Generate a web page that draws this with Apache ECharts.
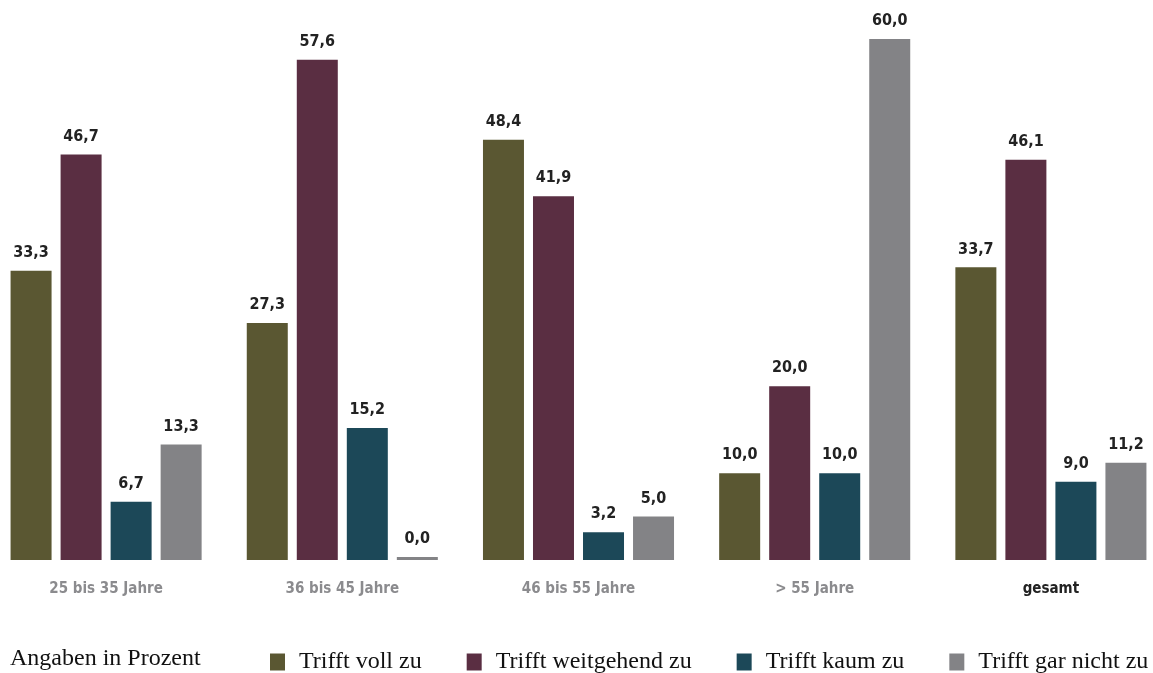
<!DOCTYPE html>
<html><head><meta charset="utf-8">
<script src="https://cdn.jsdelivr.net/npm/echarts@6/dist/echarts.min.js"></script>
<style>html,body{margin:0;padding:0;background:#fff}#c{width:1153px;height:673px}</style>
</head><body><div id="c"></div>
<script>
const categories = ['25 bis 35 Jahre', '36 bis 45 Jahre', '46 bis 55 Jahre', '> 55 Jahre', 'gesamt'];
const seriesNames = ['Trifft voll zu', 'Trifft weitgehend zu', 'Trifft kaum zu', 'Trifft gar nicht zu'];
const vollZu = [33.3, 27.3, 48.4, 10.0, 33.7];
const weitgehendZu = [46.7, 57.6, 41.9, 20.0, 46.1];
const kaumZu = [6.7, 15.2, 3.2, 10.0, 9.0];
const garNichtZu = [13.3, 0.0, 5.0, 60.0, 11.2];
const colors = ['#5a5732', '#5a2e42', '#1c4858', '#838386'];
const note = 'Angaben in Prozent';

const chart = echarts.init(document.getElementById('c'));
const dataSets = [vollZu, weitgehendZu, kaumZu, garNichtZu];
const condensed = "'DejaVu Sans Condensed', 'DejaVu Sans', sans-serif";
chart.setOption({
  animation: false,
  color: colors,
  grid: { left: -12, width: 1181, top: 39, bottom: 113, outerBoundsMode: 'none', containLabel: false },
  xAxis: {
    type: 'category', data: categories,
    axisLine: { show: false }, axisTick: { show: false },
    axisLabel: {
      margin: 22, fontFamily: condensed, fontWeight: 'bold', fontSize: 15,
      color: function (v) { return v === 'gesamt' ? '#222' : '#8b8b8e'; }
    }
  },
  yAxis: { type: 'value', min: 0, max: 60, show: false, splitLine: { show: false } },
  legend: {
    left: 270, top: 650, width: 900, padding: 0, itemWidth: 15, itemHeight: 17, itemGap: 45, icon: 'rect',
    data: seriesNames,
    textStyle: { fontFamily: "'Liberation Serif', serif", fontSize: 24, color: '#111', padding: [0, 0, 0, 9] }
  },
  graphic: [{
    type: 'text', left: 10, top: 647,
    style: { text: note, font: "24px 'Liberation Serif', serif", fill: '#111' }
  }],
  series: dataSets.map((d, i) => ({
    name: seriesNames[i], type: 'bar', data: d,
    barWidth: 41, barGap: '22%', barCategoryGap: '18%',
    barMinHeight: i === 3 ? 3 : 0,
    label: {
      show: true, position: 'top', distance: 10,
      fontFamily: condensed, fontWeight: 'bold', fontSize: 16, color: '#222',
      formatter: p => p.value.toFixed(1).replace('.', ',')
    }
  }))
});
</script></body></html>
